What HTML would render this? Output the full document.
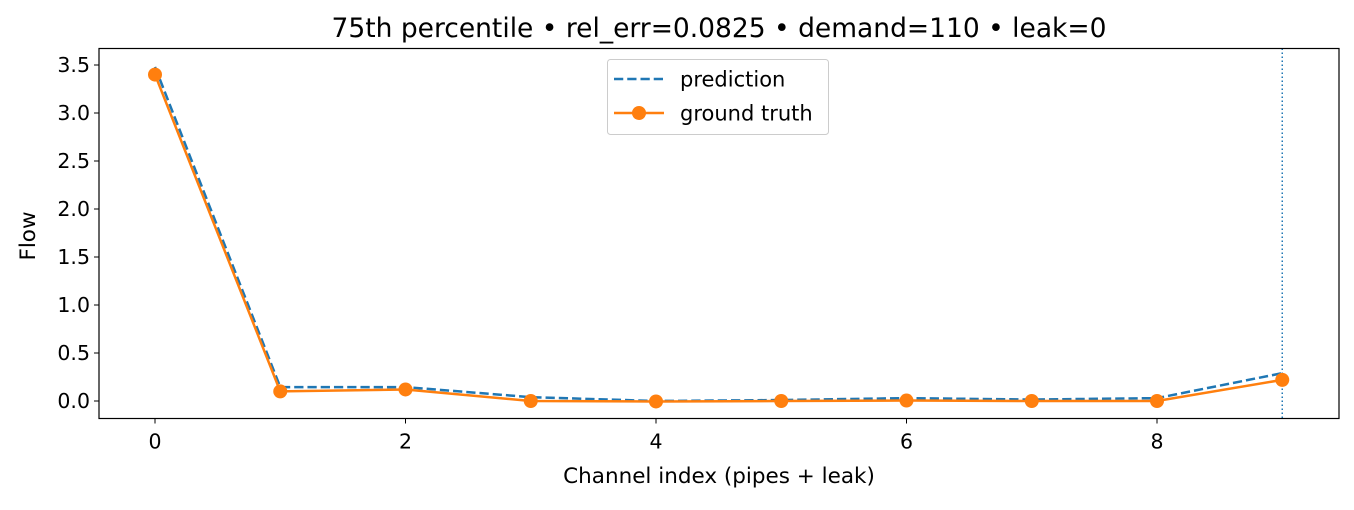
<!DOCTYPE html>
<html><head><meta charset="utf-8"><style>
body{margin:0;background:#fff;width:1354px;height:505px;overflow:hidden;font-family:"Liberation Sans","DejaVu Sans",sans-serif}
svg text{font-family:"DejaVu Sans","Liberation Sans",sans-serif;fill:#000}
</style></head><body>
<svg id="chart" width="1354" height="505" xmlns="http://www.w3.org/2000/svg"></svg>
<script>
const categories=[0,1,2,3,4,5,6,7,8,9];
const predictionValues=[3.48,0.145,0.145,0.04,0.0,0.01,0.03,0.015,0.03,0.29];
const truthValues=[3.40,0.10,0.12,0.0,-0.005,0.0,0.005,0.0,0.0,0.22];
const xTicks=[0,2,4,6,8];
const yTicks=[0,0.5,1,1.5,2,2.5,3,3.5];
const leakIndex=9;
const NS="http://www.w3.org/2000/svg";
const svg=document.getElementById('chart');
const L=99,R=1339,T=48.5,B=418.5;
const X=v=>155+(v)*125.25;
const Y=v=>401-v*96;
function el(tag,attrs,parent){const e=document.createElementNS(NS,tag);for(const k in attrs)e.setAttribute(k,attrs[k]);(parent||svg).appendChild(e);return e;}
function txt(x,y,s,anchor,size,parent){const t=el('text',{x:x,y:y,'text-anchor':anchor,'font-size':size},parent);t.textContent=s;return t;}
xTicks.forEach(v=>{const g=el('g',{});


el('line',{x1:X(v),x2:X(v),y1:B,y2:B+5,stroke:'#000','stroke-width':1},g);txt(X(v),B+30,String(v),'middle',20.5,g);});
yTicks.forEach(v=>{const g=el('g',{});


el('line',{x1:L-5,x2:L,y1:Y(v),y2:Y(v),stroke:'#000','stroke-width':1},g);txt(L-9,Y(v)+7,v.toFixed(1),'end',20.5,g);});
const vl=el('line',{x1:X(leakIndex),x2:X(leakIndex),y1:T,y2:B,stroke:'#1f77b4','stroke-width':1.5,'stroke-dasharray':'1.5,2.5'});


const pp=el('polyline',{points:categories.map((c,i)=>X(c)+','+Y(predictionValues[i])).join(' '),fill:'none',stroke:'#1f77b4','stroke-width':2.5,'stroke-dasharray':'9.25,4'});


const tp=el('polyline',{points:categories.map((c,i)=>X(c)+','+Y(truthValues[i])).join(' '),fill:'none',stroke:'#ff7f0e','stroke-width':2.5});


categories.forEach((c,i)=>{const p=el('circle',{cx:X(c),cy:Y(truthValues[i]),r:7,fill:'#ff7f0e'});

});
const fr=el('rect',{x:L,y:T,width:R-L,height:B-T,fill:'none',stroke:'#000','stroke-width':1.2});


const tt=txt(719,37,'75th percentile • rel_err=0.0825 • demand=110 • leak=0','middle',26.5);


const xl=txt(719,483,'Channel index (pipes + leak)','middle',21.5);


const yl=txt(0,0,'Flow','middle',21.5);
yl.setAttribute('transform','translate(35,236) rotate(-90)');


const lg=el('g',{});


el('rect',{x:607.5,y:59.5,width:221,height:75,rx:3,fill:'#fff',stroke:'#ccc','stroke-width':1},lg);
el('line',{x1:614,x2:664,y1:79,y2:79,stroke:'#1f77b4','stroke-width':2.5,'stroke-dasharray':'9.25,4'},lg);
txt(680,86.5,'prediction','start',21,lg);
el('line',{x1:614,x2:664,y1:113,y2:113,stroke:'#ff7f0e','stroke-width':2.5},lg);
el('circle',{cx:639,cy:113,r:7,fill:'#ff7f0e'},lg);
txt(680,120.5,'ground truth','start',21,lg);
</script>
</body></html>
